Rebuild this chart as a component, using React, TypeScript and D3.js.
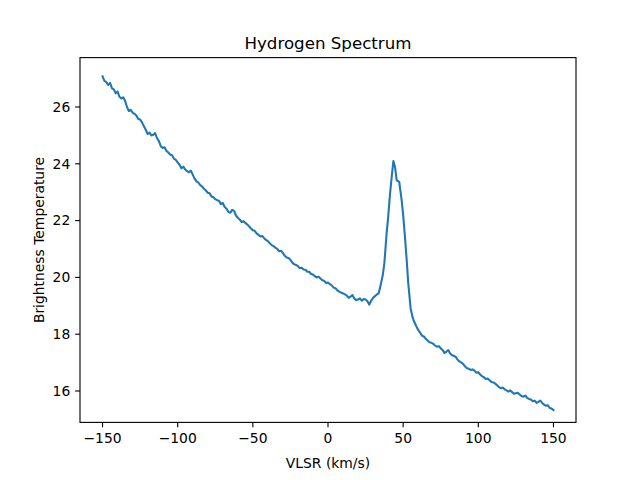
import * as d3 from "d3";

const WIDTH = 640;
const HEIGHT = 480;
const MARGIN = { top: 57.6, right: 64, bottom: 57.6, left: 80 };

// velocity (km/s) and brightness temperature
const vlsr = [
  -150, -148.75, -147.5, -146.25, -145, -143.75, -142.5, -141.25, -140,
  -138.75, -137.5, -136.25, -135, -133.75, -132.5, -131.25, -130, -128.75,
  -127.5, -126.25, -125, -123.75, -122.5, -121.25, -120, -118.75, -117.5,
  -116.25, -115, -113.75, -112.5, -111.25, -110, -108.75, -107.5, -106.25,
  -105, -103.75, -102.5, -101.25, -100, -98.75, -97.5, -96.25, -95, -93.75,
  -92.5, -91.25, -90, -88.75, -87.5, -86.25, -85, -83.75, -82.5, -81.25, -80,
  -78.75, -77.5, -76.25, -75, -73.75, -72.5, -71.25, -70, -68.75, -67.5,
  -66.25, -65, -63.75, -62.5, -61.25, -60, -58.75, -57.5, -56.25, -55, -53.75,
  -52.5, -51.25, -50, -48.75, -47.5, -46.25, -45, -43.75, -42.5, -41.25, -40,
  -38.75, -37.5, -36.25, -35, -33.75, -32.5, -31.25, -30, -28.75, -27.5,
  -26.25, -25, -23.75, -22.5, -21.25, -20, -18.75, -17.5, -16.25, -15, -13.75,
  -12.5, -11.25, -10, -8.75, -7.5, -6.25, -5, -3.75, -2.5, -1.25, 0, 1.25, 2.5,
  3.75, 5, 6.25, 7.5, 8.75, 10, 11.25, 12.5, 13.75, 15, 16.25, 17.5, 18.75, 20,
  21.25, 22.5, 23.75, 25, 26.25, 27.5, 28.75, 30, 31.25, 32.5, 33.75, 35, 36.5,
  37.5, 39, 40, 41.3, 42.5, 43.5, 44.6, 45.7, 47.4, 49, 50, 51.2, 52.5, 53.4,
  55, 56.25, 57.5, 58.75, 60, 61.25, 62.5, 63.75, 65, 66.25, 67.5, 68.75, 70,
  71.25, 72.5, 73.75, 75, 76.25, 77.5, 78.75, 80, 81.25, 82.5, 83.75, 85,
  86.25, 87.5, 88.75, 90, 91.25, 92.5, 93.75, 95, 96.25, 97.5, 98.75, 100,
  101.25, 102.5, 103.75, 105, 106.25, 107.5, 108.75, 110, 111.25, 112.5,
  113.75, 115, 116.25, 117.5, 118.75, 120, 121.25, 122.5, 123.75, 125, 126.25,
  127.5, 128.75, 130, 131.25, 132.5, 133.75, 135, 136.25, 137.5, 138.75, 140,
  141.25, 142.5, 143.75, 145, 146.25, 147.5, 148.75, 150,
];

const temperature = [
  27.08, 26.92, 26.88, 26.78, 26.85, 26.66, 26.62, 26.48, 26.55, 26.36, 26.3,
  26.34, 26.22, 26.0, 25.86, 25.9, 25.8, 25.76, 25.7, 25.58, 25.56, 25.46,
  25.32, 25.2, 25.05, 25.1, 25.0, 25.02, 25.08, 24.9, 24.8, 24.62, 24.56,
  24.58, 24.45, 24.4, 24.33, 24.3, 24.18, 24.14, 24.05, 23.96, 23.84, 23.9,
  23.8, 23.74, 23.7, 23.76, 23.62, 23.48, 23.38, 23.34, 23.25, 23.2, 23.12,
  23.06, 22.98, 22.96, 22.85, 22.82, 22.76, 22.72, 22.7, 22.58, 22.62, 22.48,
  22.42, 22.3, 22.28, 22.38, 22.34, 22.18, 22.1, 22.04, 21.95, 21.98, 21.92,
  21.86, 21.8, 21.72, 21.66, 21.64, 21.55, 21.5, 21.44, 21.46, 21.38, 21.32,
  21.28, 21.2, 21.14, 21.1, 21.05, 21.0, 20.92, 20.94, 20.86, 20.76, 20.7,
  20.68, 20.62, 20.52, 20.46, 20.44, 20.4, 20.32, 20.34, 20.28, 20.27, 20.2,
  20.2, 20.12, 20.1, 20.04, 20.0, 20.02, 19.96, 19.9, 19.88, 19.8, 19.82,
  19.76, 19.72, 19.64, 19.62, 19.54, 19.5, 19.46, 19.44, 19.4, 19.36, 19.28,
  19.32, 19.38, 19.26, 19.2, 19.22, 19.26, 19.18, 19.24, 19.22, 19.16, 19.04,
  19.18, 19.28, 19.34, 19.4, 19.44, 19.72, 20.1, 20.5, 21.55, 22.1, 22.96,
  23.6, 24.1, 23.89, 23.42, 23.36, 22.72, 22.2, 21.43, 20.5, 19.79, 18.9, 18.6,
  18.42, 18.28, 18.15, 18.06, 17.95, 17.92, 17.84, 17.78, 17.72, 17.7, 17.66,
  17.6, 17.56, 17.58, 17.5, 17.44, 17.34, 17.38, 17.44, 17.32, 17.26, 17.24,
  17.2, 17.1, 17.04, 17.0, 16.95, 16.86, 16.8, 16.78, 16.74, 16.76, 16.72,
  16.64, 16.66, 16.58, 16.52, 16.48, 16.42, 16.44, 16.38, 16.32, 16.3, 16.26,
  16.2, 16.14, 16.1, 16.12, 16.06, 16.02, 15.98, 16.02, 15.96, 15.9, 15.92,
  15.94, 15.88, 15.82, 15.8, 15.84, 15.76, 15.72, 15.7, 15.64, 15.66, 15.58,
  15.62, 15.66, 15.58, 15.52, 15.48, 15.5, 15.4, 15.38, 15.33,
];

const xTicks = [-150, -100, -50, 0, 50, 100, 150];
const yTicks = [16, 18, 20, 22, 24, 26];

const FONT = "'DejaVu Sans', sans-serif";
const fmt = (v: number) => (v < 0 ? `\u2212${Math.abs(v)}` : `${v}`);

export default function App() {
  const x0 = MARGIN.left;
  const x1 = WIDTH - MARGIN.right;
  const y0 = MARGIN.top;
  const y1 = HEIGHT - MARGIN.bottom;

  const xScale = d3.scaleLinear().domain([-165, 165]).range([x0, x1]);
  const yScale = d3.scaleLinear().domain([14.894, 27.74]).range([y1, y0]);

  const line = d3
    .line<number>()
    .x((_, i) => xScale(vlsr[i]))
    .y((d) => yScale(d));

  return (
    <svg
      width={WIDTH}
      height={HEIGHT}
      style={{ position: "absolute", left: 0, top: 0, background: "#fff" }}
      fontFamily={FONT}
    >
      <path
        d={line(temperature) || ""}
        fill="none"
        stroke="#1f77b4"
        strokeWidth={2.08}
        strokeLinejoin="round"
        strokeLinecap="square"
      />
      <rect
        x={x0}
        y={y0}
        width={x1 - x0}
        height={y1 - y0}
        fill="none"
        stroke="#000"
        strokeWidth={1.11}
      />
      {xTicks.map((t) => (
        <g key={t}>
          <line
            x1={xScale(t)}
            x2={xScale(t)}
            y1={y1}
            y2={y1 + 4.86}
            stroke="#000"
            strokeWidth={1.11}
          />
          <text
            x={xScale(t)}
            y={y1 + 9.72}
            dy="0.76em"
            textAnchor="middle"
            fontSize={13.89}
          >
            {fmt(t)}
          </text>
        </g>
      ))}
      {yTicks.map((t) => (
        <g key={t}>
          <line
            x1={x0 - 4.86}
            x2={x0}
            y1={yScale(t)}
            y2={yScale(t)}
            stroke="#000"
            strokeWidth={1.11}
          />
          <text
            x={x0 - 9.72}
            y={yScale(t)}
            dy="0.35em"
            textAnchor="end"
            fontSize={13.89}
          >
            {t}
          </text>
        </g>
      ))}
      <text
        x={(x0 + x1) / 2}
        y={y0 - 8.33}
        textAnchor="middle"
        fontSize={16.67}
      >
        Hydrogen Spectrum
      </text>
      <text
        x={(x0 + x1) / 2}
        y={468}
        textAnchor="middle"
        fontSize={13.89}
      >
        VLSR (km/s)
      </text>
      <text
        transform={`translate(44, ${(y0 + y1) / 2}) rotate(-90)`}
        textAnchor="middle"
        fontSize={13.89}
      >
        Brightness Temperature
      </text>
    </svg>
  );
}
